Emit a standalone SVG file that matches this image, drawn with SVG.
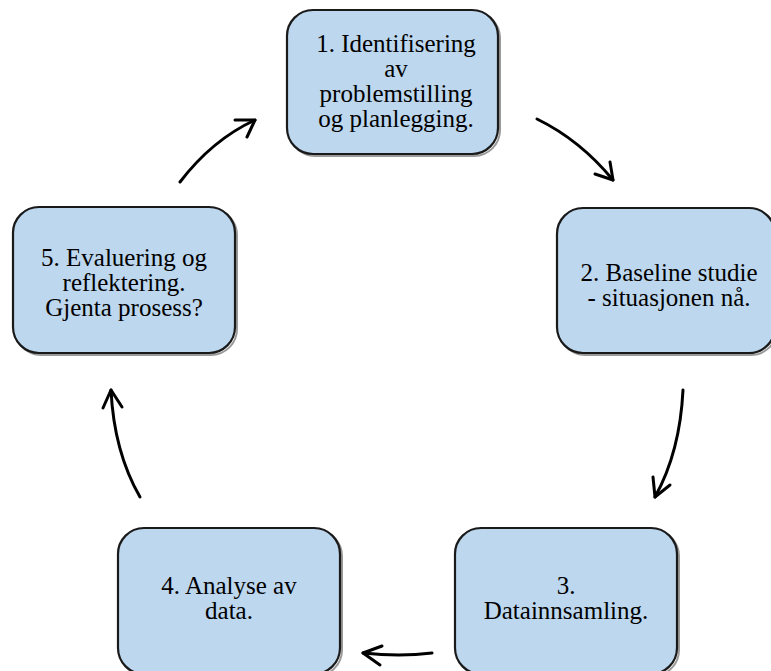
<svg xmlns="http://www.w3.org/2000/svg" width="771" height="671" viewBox="0 0 771 671">
<style>
.box{fill:#BDD7EE;stroke:#1a1a1a;stroke-width:2.2}
.sh{fill:none;stroke:#9a9a9a;stroke-width:2}
text{font-family:'Liberation Serif','Times New Roman',Times,serif;font-size:25px;fill:#000;text-anchor:middle}
.c{fill:none;stroke:#000;stroke-width:3;stroke-linecap:round;stroke-linejoin:round}
</style>
<rect width="771" height="671" fill="#fff"/>
<g id="node1">
<rect class="sh" x="289" y="12" width="211" height="144" rx="26"/>
<rect class="box" x="287" y="10" width="211" height="144" rx="26"/>
<text><tspan x="396" y="52">1. Identifisering</tspan><tspan x="396" y="77">av</tspan><tspan x="396" y="102">problemstilling</tspan><tspan x="396" y="127">og planlegging.</tspan></text>
</g>
<g id="node2">
<rect class="sh" x="559" y="210" width="218" height="145" rx="26"/>
<rect class="box" x="557" y="208" width="218" height="145" rx="26"/>
<text><tspan x="669" y="281">2. Baseline studie</tspan><tspan x="669" y="306">- situasjonen nå.</tspan></text>
</g>
<g id="node3">
<rect class="sh" x="457" y="530" width="222" height="146" rx="26"/>
<rect class="box" x="455" y="528" width="222" height="146" rx="26"/>
<text><tspan x="566" y="594">3.</tspan><tspan x="566" y="619">Datainnsamling.</tspan></text>
</g>
<g id="node4">
<rect class="sh" x="120" y="530" width="222" height="146" rx="26"/>
<rect class="box" x="118" y="528" width="222" height="146" rx="26"/>
<text><tspan x="229" y="594">4. Analyse av</tspan><tspan x="229" y="619">data.</tspan></text>
</g>
<g id="node5">
<rect class="sh" x="15" y="209" width="222" height="146" rx="26"/>
<rect class="box" x="13" y="207" width="222" height="146" rx="26"/>
<text><tspan x="124" y="266">5. Evaluering og</tspan><tspan x="124" y="291">reflektering.</tspan><tspan x="124" y="316">Gjenta prosess?</tspan></text>
</g>
<g id="connectors">
<path class="c" d="M537,119 Q580,140 613,180"/>
<path class="c" d="M610,162 L613,180 L595,174"/>
<path class="c" d="M683,390 Q680,452 655,497"/>
<path class="c" d="M653,477 L655,497 L670,485"/>
<path class="c" d="M432,653 Q400,657 363,653"/>
<path class="c" d="M382,646 L363,653 L380,665"/>
<path class="c" d="M140,497 Q114,452 111,390"/>
<path class="c" d="M103,408 L111,390 L122,407"/>
<path class="c" d="M180,182 Q212,140 255,120"/>
<path class="c" d="M235,120 L255,120 L247,137"/>
</g>
</svg>
